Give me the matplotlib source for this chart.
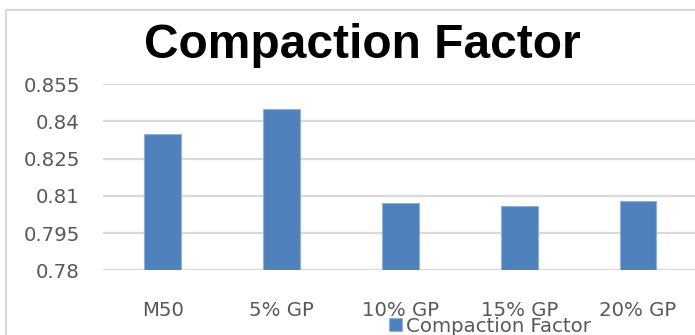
import matplotlib.pyplot as plt
from matplotlib.patches import Rectangle

categories = ["M50", "5% GP", "10% GP", "15% GP", "20% GP"]
values = [0.835, 0.845, 0.807, 0.806, 0.808]
y_ticks = [0.78, 0.795, 0.81, 0.825, 0.84, 0.855]
y_labels = ["0.78", "0.795", "0.81", "0.825", "0.84", "0.855"]


def main():
	W, H = 695, 335
	fig = plt.figure(figsize=(W / 100, H / 100), dpi=100)
	fig.patch.set_facecolor("white")

	# chart border (cropped on right and bottom in the reference)
	fig.patches.append(Rectangle((6 / W, -0.1), 1.2, (H - 10) / H + 0.1,
		transform=fig.transFigure, fill=False, edgecolor="#d9d9d9", linewidth=1.5))

	ax = fig.add_axes([103.4 / W, (H - 270.3) / H, 594 / W, 186 / H])
	x = range(len(categories))
	ax.bar(x, values, width=0.31, color="#4f81bd", edgecolor="#8fb0d8", linewidth=0.8,
		label="Compaction Factor", zorder=3)

	ax.set_xlim(-0.5, 4.5)
	ax.set_ylim(0.78, 0.855)
	ax.set_yticks(y_ticks)
	ax.set_yticklabels(y_labels)
	ax.set_xticks(list(x))
	ax.set_xticklabels(categories)
	ax.tick_params(axis="both", length=0, labelsize=14.2, labelcolor="#595959")
	ax.tick_params(axis="y", pad=17)
	ax.tick_params(axis="x", pad=22)
	for s in ax.spines.values():
		s.set_visible(False)
	ax.grid(axis="y", color="#d9d9d9", linewidth=1.6, zorder=0)
	ax.set_facecolor("none")

	fig.text(362.5 / W, (H - 58) / H, "Compaction Factor", ha="center", va="baseline",
		fontsize=34.5, fontweight="bold", family="Liberation Sans", color="black")

	leg = fig.legend(loc="center left", bbox_to_anchor=(389 / W, (H - 326) / H),
		frameon=False, fontsize=14.2, handlelength=0.65, handleheight=0.65,
		handletextpad=0.2, borderpad=0, borderaxespad=0)
	for t in leg.get_texts():
		t.set_color("#595959")

	fig.savefig("out.png", dpi=100)


if __name__ == "__main__":
	main()
